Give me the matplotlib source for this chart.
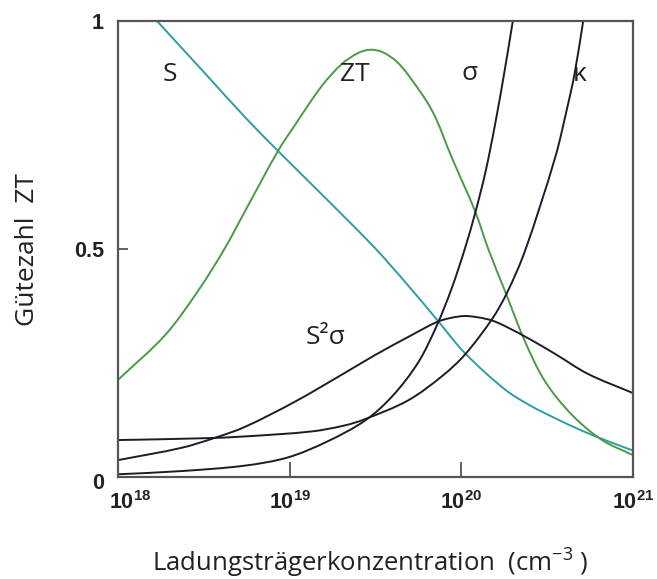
import numpy as np
import matplotlib
matplotlib.use("Agg")
import matplotlib.pyplot as plt
from matplotlib.path import Path
from matplotlib.patches import PathPatch
from matplotlib.transforms import ScaledTranslation
from matplotlib.ticker import FixedLocator, NullLocator, LogFormatterSciNotation

plt.rcParams['font.family'] = ['Open Sans', 'DejaVu Sans']

# Carrier concentration given as log10(n / cm^-3); quantities normalised to 0..1
s_logn = [18.227, 18.50, 18.74, 18.932, 19.20, 19.497, 19.69, 19.858, 20.02, 20.254, 20.40,
          20.546, 20.70, 20.837, 21.0]
s_val = [1.0, 0.888, 0.789, 0.715, 0.615, 0.502, 0.420, 0.345, 0.272, 0.192, 0.157,
         0.129, 0.102, 0.081, 0.058]

zt_logn = [18.0, 18.274, 18.466, 18.623, 18.74, 18.932, 19.031, 19.188, 19.305, 19.40,
           19.47, 19.54, 19.62, 19.69, 19.83, 19.945, 20.08, 20.155, 20.254, 20.37, 20.487,
           20.645, 20.82, 21.0]
zt_val = [0.213, 0.311, 0.408, 0.502, 0.583, 0.715, 0.772, 0.858, 0.906, 0.930,
          0.937, 0.932, 0.912, 0.882, 0.803, 0.700, 0.583, 0.502, 0.408, 0.298, 0.210,
          0.136, 0.081, 0.048]

sigma_logn = [18.0, 18.37, 18.74, 18.99, 19.22, 19.44, 19.60, 19.75, 19.858, 19.945, 20.02,
              20.08, 20.14, 20.196, 20.254, 20.30]
sigma_val = [0.006, 0.013, 0.025, 0.043, 0.078, 0.124, 0.178, 0.252, 0.333, 0.415, 0.500,
             0.578, 0.668, 0.772, 0.895, 1.0]

kappa_logn = [18.0, 18.5, 18.74, 19.13, 19.32, 19.44, 19.69, 19.887, 20.02, 20.18, 20.266,
              20.37, 20.546, 20.62, 20.66, 20.71]
kappa_val = [0.081, 0.085, 0.089, 0.100, 0.113, 0.127, 0.168, 0.221, 0.268, 0.347, 0.404,
             0.495, 0.700, 0.815, 0.885, 1.0]

pf_logn = [18.0, 18.37, 18.565, 18.74, 19.03, 19.32, 19.50, 19.69, 19.858, 19.94, 20.02,
           20.10, 20.18, 20.254, 20.40, 20.546, 20.738, 21.0]
pf_val = [0.037, 0.064, 0.086, 0.110, 0.165, 0.228, 0.268, 0.307, 0.340, 0.349, 0.353,
          0.350, 0.343, 0.331, 0.302, 0.270, 0.226, 0.184]

x_ticks = [1e18, 1e19, 1e20, 1e21]
y_ticks = [0, 0.5, 1]
y_ticklabels = ['0', '0.5', '1']

teal = '#2f9ca3'
green = '#4a9a45'
dark = '#1c1c28'

fig = plt.figure(figsize=(6.57, 5.79), dpi=100)
ax = fig.add_axes([118 / 657, 1 - 477 / 579, 515 / 657, 456 / 579])


def smooth_curve(logn, vals, **kw):
    """Draw a smooth Bezier path through the given points (tangents from chord lengths)."""
    # work in a space roughly proportional to screen distance
    p = np.column_stack([np.asarray(logn) * 1.0, np.asarray(vals) * 2.65])
    d = np.hypot(*np.diff(p, axis=0).T)
    tang = np.zeros_like(p)
    tang[0] = (p[1] - p[0]) / d[0]
    tang[-1] = (p[-1] - p[-2]) / d[-1]
    tang[1:-1] = (p[2:] - p[:-2]) / (d[:-1] + d[1:])[:, None]
    verts = [p[0]]
    codes = [Path.MOVETO]
    for i in range(len(p) - 1):
        c1 = p[i] + tang[i] * d[i] / 3
        c2 = p[i + 1] - tang[i + 1] * d[i] / 3
        verts += [c1, c2, p[i + 1]]
        codes += [Path.CURVE4] * 3
    verts = np.array(verts)
    verts[:, 1] /= 2.65
    verts[:, 0] = 10.0 ** verts[:, 0]
    patch = PathPatch(Path(verts, codes), fill=False, **kw)
    ax.add_patch(patch)


lw = 1.4
smooth_curve(s_logn, s_val, edgecolor=teal, lw=lw)
smooth_curve(zt_logn, zt_val, edgecolor=green, lw=lw)
smooth_curve(sigma_logn, sigma_val, edgecolor=dark, lw=lw)
smooth_curve(kappa_logn, kappa_val, edgecolor=dark, lw=lw)
smooth_curve(pf_logn, pf_val, edgecolor=dark, lw=lw)

ax.set_xscale('log')
ax.set_xlim(1e18, 1e21)
ax.set_ylim(0, 1)

ax.xaxis.set_major_locator(FixedLocator(x_ticks))
ax.xaxis.set_minor_locator(NullLocator())
ax.xaxis.set_major_formatter(LogFormatterSciNotation())
ax.set_yticks(y_ticks)
ax.set_yticklabels(y_ticklabels)

ax.tick_params(axis='x', direction='in', length=11, width=1.2, color='#444444', pad=10)
ax.tick_params(axis='y', direction='in', length=7, width=1.2, color='#444444', pad=10)
for lab in ax.get_xticklabels() + ax.get_yticklabels():
    lab.set_fontfamily('Liberation Sans')
    lab.set_fontweight('bold')
    lab.set_fontsize(15.5)
    lab.set_color('#222222')

# nudge the first concentration label right so it clears the "0"
first = ax.get_xticklabels()[0]
first.set_transform(first.get_transform() + ScaledTranslation(0.12, 0, fig.dpi_scale_trans))
zero = ax.get_yticklabels()[0]
zero.set_transform(zero.get_transform() + ScaledTranslation(0, -0.04, fig.dpi_scale_trans))

for sp in ax.spines.values():
    sp.set_color('#555555')
    sp.set_linewidth(1.6)

lab_kw = dict(fontsize=19, color='#222222', ha='center', va='center')
ax.text(10 ** 18.303, 0.882, 'S', **lab_kw)
ax.text(10 ** 19.38, 0.882, 'ZT', **lab_kw)
ax.text(10 ** 20.05, 0.884, 'σ', **lab_kw)
ax.text(10 ** 20.69, 0.882, 'κ', **lab_kw)
ax.text(10 ** 19.206, 0.305, 'S²σ', **lab_kw)

fig.text(370 / 657, 1 - 562 / 579, r'Ladungsträgerkonzentration  (cm$^{\mathdefault{-3}}$ )',
         fontsize=18.5, color='#222222', ha='center', va='center')
fig.text(28 / 657, 1 - 250 / 579, 'Gütezahl  ZT', rotation=90,
         fontsize=19, color='#222222', ha='center', va='center')

fig.savefig('out.png', dpi=100)
